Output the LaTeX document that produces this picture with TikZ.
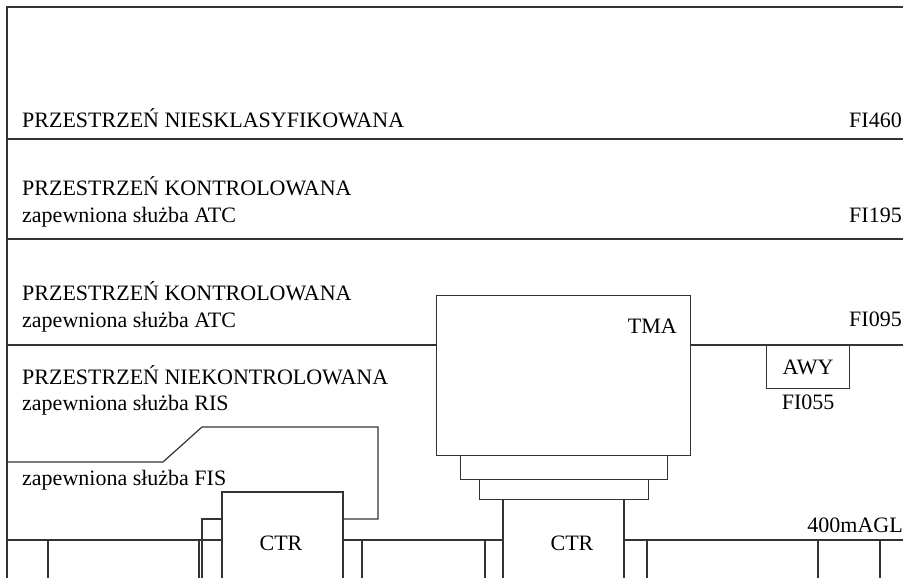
\documentclass[tikz,border=0pt]{standalone}
\usepackage{fontspec}
\setmainfont{Liberation Serif}
\usetikzlibrary{positioning}

\begin{document}
\begin{tikzpicture}[
    x=1pt, y=-1pt,
    line/.style={draw=black!80, line width=1.2pt},
    box/.style={line, rectangle, inner sep=0pt, font=\fontsize{22}{26}\selectfont},
    lbl/.style={anchor=base west, inner sep=0pt, font=\fontsize{22}{26}\selectfont},
    rlbl/.style={anchor=base east, inner sep=0pt, font=\fontsize{22}{26}\selectfont},
    clbl/.style={anchor=base, inner sep=0pt, font=\fontsize{22}{26}\selectfont},
]
\useasboundingbox (0,0) rectangle (903,578);

% granice przestrzeni
\draw[line] (903,7) -- (7,7) -- (7,578);
\draw[line] (7,139) -- (903,139);
\draw[line] (7,239) -- (903,239);
\draw[line] (7,345) -- (436,345);
\draw[line] (690,345) -- (903,345);

% TMA i stopnie
\node[box, minimum width=254, minimum height=160, anchor=north west] (tma) at (436,295) {};
\node[box, minimum width=207, minimum height=24, anchor=north west] (tma_s1) at (460,455) {};
\node[box, minimum width=169, minimum height=20, anchor=north west] (tma_s2) at (479,479) {};
\node[clbl, anchor=base east] (tma_txt) at (677,333) {TMA};

% AWY
\node[box, minimum width=83, minimum height=43, anchor=north west] (awy) at (766,345) {AWY};
\node[clbl, below=5pt of awy] (awy_fl) {FI055};

% CTR
\draw[line] (222,578) -- (222,492) -- (343,492) -- (343,578);
\draw[line] (503,578) -- (503,499);
\draw[line] (624,499) -- (624,578);
\node[clbl] (ctr1) at (281,550) {CTR};
\node[clbl] (ctr2) at (572,550) {CTR};

% FIS
\draw[line] (7,462) -- (163,462) -- (202,427) -- (378,427) -- (378,519) -- (343,519);
\draw[line] (222,519) -- (202,519) -- (202,578);

% 400m AGL
\draw[line] (7,540) -- (222,540);
\draw[line] (343,540) -- (503,540);
\draw[line] (624,540) -- (903,540);
\foreach \x in {48,199,362,485,647,818,880}
    \draw[line] (\x,540) -- (\x,578);

% opisy
\node[lbl] (niesk) at (22,128) {PRZESTRZEŃ NIESKLASYFIKOWANA};
\node[lbl] (kontr1) at (22,195) {PRZESTRZEŃ KONTROLOWANA};
\node[lbl] (atc1) at (22,222) {zapewniona służba ATC};
\node[lbl] (kontr2) at (22,300) {PRZESTRZEŃ KONTROLOWANA};
\node[lbl] (atc2) at (22,327) {zapewniona służba ATC};
\node[lbl] (niekontr) at (22,384) {PRZESTRZEŃ NIEKONTROLOWANA};
\node[lbl] (ris) at (22,410) {zapewniona służba RIS};
\node[lbl] (fis) at (22,485) {zapewniona służba FIS};

\node[rlbl] (fl460) at (902,128) {FI460};
\node[rlbl] (fl195) at (902,222) {FI195};
\node[rlbl] (fl095) at (902,326) {FI095};
\node[rlbl] (agl) at (903,532) {400mAGL};

\end{tikzpicture}
\end{document}
